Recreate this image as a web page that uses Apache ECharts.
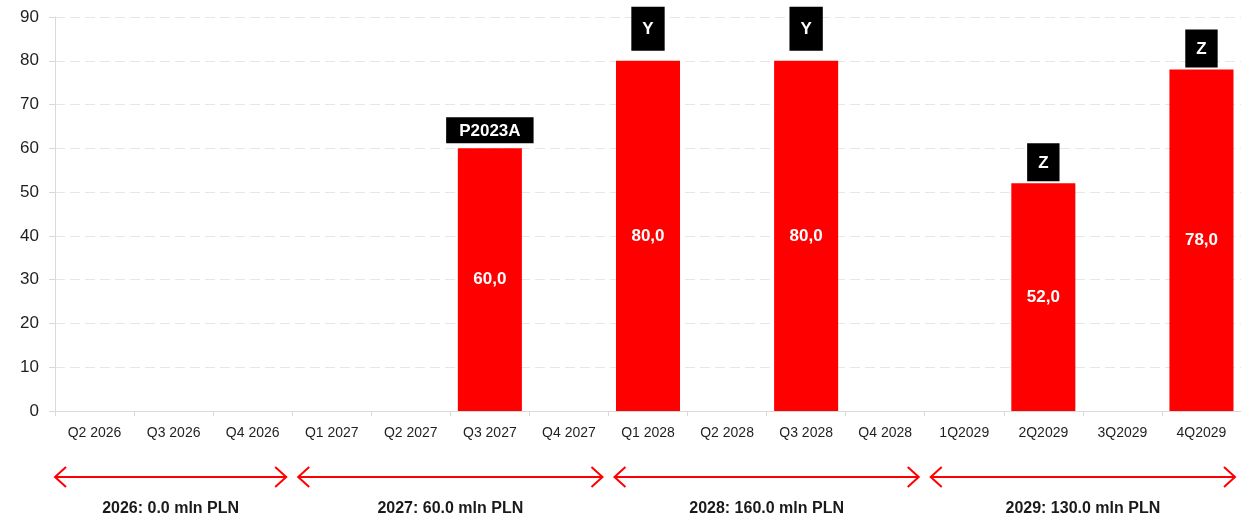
<!DOCTYPE html>
<html>
<head>
<meta charset="utf-8">
<script src="https://cdn.jsdelivr.net/npm/echarts@6/dist/echarts.min.js"></script>
<style>
html,body{margin:0;padding:0;background:#fff;}
#chart{width:1241px;height:521px;}
</style>
</head>
<body>
<div id="chart"></div>
<script>
// ---- data ----
var categories = ['Q2 2026','Q3 2026','Q4 2026','Q1 2027','Q2 2027','Q3 2027','Q4 2027','Q1 2028','Q2 2028','Q3 2028','Q4 2028','1Q2029','2Q2029','3Q2029','4Q2029'];
var values = [null,null,null,null,null,60,null,80,null,80,null,null,52,null,78];
var tags = [null,null,null,null,null,'P2023A',null,'Y',null,'Y',null,null,'Z',null,'Z'];
var yTicks = [0,10,20,30,40,50,60,70,80,90];
var groupYears = ['2026','2027','2028','2029'];
var groupStart = [0,3,7,11];
var groupEnd = [2,6,10,14];

// ---- styles (not data) ----
var FONT = 'Liberation Sans';
var tagStyle = {
  'P2023A': {padding:[5,13,4,13], distance:5},
  'Y': {padding:[14,11,13,11], distance:10},
  'Z': {padding:[11,11,10,11], distance:2}
};

function fmt(v){ return v.toFixed(1).replace('.', ','); }

var chart = echarts.init(document.getElementById('chart'), null, {renderer:'canvas'});

var tagData = values.map(function(v, i){
  if (tags[i] == null || v == null) return {value: null};
  var s = tagStyle[tags[i]];
  return {
    value: v,
    label: {
      show: true,
      position: 'top',
      distance: s.distance,
      formatter: tags[i],
      backgroundColor: '#000',
      color: '#fff',
      fontWeight: 'bold',
      fontSize: 17,
      fontFamily: FONT,
      padding: s.padding,
      lineHeight: 17
    }
  };
});

var option = {
  animation: false,
  backgroundColor: '#fff',
  grid: {left: 55, right: 0, top: 17, bottom: 110, containLabel: false},
  xAxis: {
    type: 'category',
    data: categories,
    boundaryGap: true,
    axisLine: {show: true, lineStyle: {color: '#d9d9d9', width: 1}},
    axisTick: {show: true, alignWithLabel: false, length: 5, lineStyle: {color: '#d9d9d9'}},
    axisLabel: {color: '#1f1f1f', fontSize: 14, fontFamily: FONT, margin: 15, interval: 0},
    splitLine: {show: false}
  },
  yAxis: {
    type: 'value',
    min: yTicks[0],
    max: yTicks[yTicks.length - 1],
    interval: yTicks[1] - yTicks[0],
    axisLine: {show: true, lineStyle: {color: '#d9d9d9', width: 1}},
    axisTick: {show: true, length: 6, lineStyle: {color: '#d9d9d9'}},
    axisLabel: {color: '#1f1f1f', fontSize: 17, fontFamily: FONT, margin: 16},
    splitLine: {show: true, lineStyle: {color: '#e6e6e6', type: [10, 5], width: 1}}
  },
  series: [
    {
      type: 'bar',
      data: values,
      barWidth: '81%',
      itemStyle: {color: '#ff0000'},
      label: {
        show: true,
        position: 'inside',
        color: '#fff',
        fontWeight: 'bold',
        fontSize: 17,
        fontFamily: FONT,
        formatter: function(p){ return p.value == null ? '' : fmt(p.value); }
      },
      z: 2
    },
    {
      type: 'bar',
      data: tagData,
      barWidth: '81%',
      barGap: '-100%',
      itemStyle: {color: 'rgba(0,0,0,0)'},
      silent: true,
      z: 3
    }
  ]
};
chart.setOption(option);

// ---- year annotations below the axis ----
function drawAnnotations(){
  var c0 = chart.convertToPixel({xAxisIndex: 0}, 0);
  var c1 = chart.convertToPixel({xAxisIndex: 0}, 1);
  var band = c1 - c0;
  var yBase = chart.convertToPixel({yAxisIndex: 0}, yTicks[0]);
  var arrowY = yBase + 66;
  var textY = yBase + 98;
  var inset = 6, headW = 11, headH = 10;
  var els = [];
  for (var g = 0; g < groupYears.length; g++) {
    var x0 = chart.convertToPixel({xAxisIndex: 0}, groupStart[g]) - band / 2 + inset;
    var x1 = chart.convertToPixel({xAxisIndex: 0}, groupEnd[g]) + band / 2 - inset;
    if (g === 0) x0 = c0 - band / 2;
    var lineStyle = {stroke: '#ff0000', lineWidth: 2, fill: null};
    els.push({type: 'polyline', silent: true, shape: {points: [[x0, arrowY], [x1, arrowY]]}, style: lineStyle});
    els.push({type: 'polyline', silent: true, shape: {points: [[x0 + headW, arrowY - headH], [x0, arrowY], [x0 + headW, arrowY + headH]]}, style: lineStyle});
    els.push({type: 'polyline', silent: true, shape: {points: [[x1 - headW, arrowY - headH], [x1, arrowY], [x1 - headW, arrowY + headH]]}, style: lineStyle});
    var total = 0;
    for (var i = groupStart[g]; i <= groupEnd[g]; i++) { if (values[i] != null) total += values[i]; }
    els.push({
      type: 'text', silent: true,
      x: (x0 + x1) / 2, y: textY,
      style: {
        text: groupYears[g] + ': ' + total.toFixed(1) + ' mln PLN',
        fill: '#1a1a1a', font: 'bold 16px "' + FONT + '"',
        align: 'center', verticalAlign: 'middle'
      }
    });
  }
  chart.setOption({graphic: {elements: els}});
}
drawAnnotations();
</script>
</body>
</html>
